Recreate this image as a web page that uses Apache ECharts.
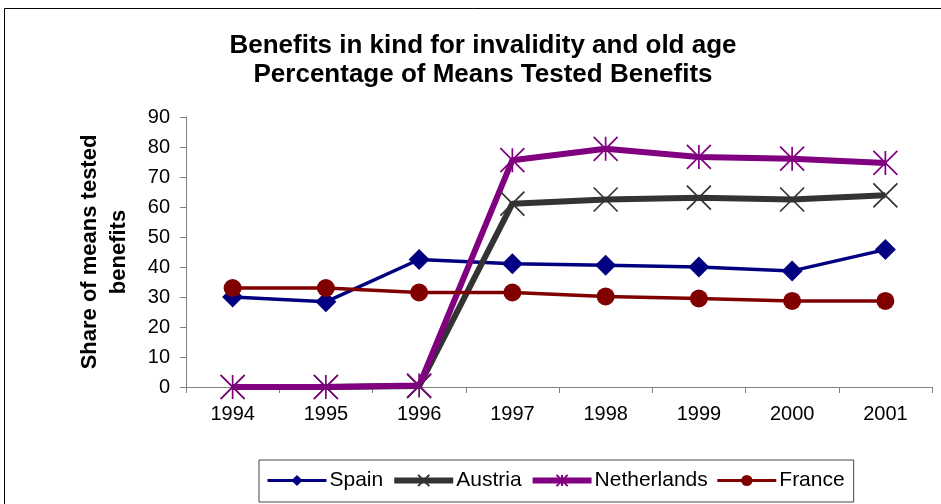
<!DOCTYPE html>
<html><head><meta charset="utf-8">
<script src="https://cdn.jsdelivr.net/npm/echarts@6/dist/echarts.min.js"></script>
<style>html,body{margin:0;padding:0;background:#fff}#c{width:941px;height:504px}</style>
</head><body><div id="c"></div>
<script>
const years = ['1994','1995','1996','1997','1998','1999','2000','2001'];
const spain = [30.0, 28.4, 42.5, 41.1, 40.6, 40.0, 38.7, 45.8];
const austria = [0, 0, 0.3, 61.1, 62.5, 63.1, 62.5, 63.9];
const netherlands = [0, 0, 0.5, 75.6, 79.4, 76.7, 76.1, 74.7];
const france = [33.0, 33.0, 31.5, 31.5, 30.2, 29.5, 28.7, 28.7];
const yTicks = [0, 10, 20, 30, 40, 50, 60, 70, 80, 90];

const FONT = '"Liberation Sans", Arial, sans-serif';
const chart = echarts.init(document.getElementById('c'), null, {renderer: 'canvas'});
const xPath = 'path://M0,0L10,10M10,0L0,10';
const starPath = 'path://M0,0L10,10M10,0L0,10M5,0L5,10';
chart.setOption({
  animation: false,
  textStyle: {fontFamily: FONT},
  graphic: [{type: 'rect', shape: {x: 4.5, y: 8.5, width: 960, height: 520}, style: {fill: 'none', stroke: '#000', lineWidth: 1}, silent: true}],
  title: {
    text: 'Benefits in kind for invalidity and old age\nPercentage of Means Tested Benefits',
    left: 478, top: 26, textAlign: 'center',
    textStyle: {fontFamily: FONT, fontSize: 26, fontWeight: 'bold', color: '#000', lineHeight: 29.5}
  },
  grid: {left: 186, right: 9, top: 117, bottom: 117, containLabel: false},
  xAxis: {
    type: 'category', data: years, boundaryGap: true,
    axisLine: {lineStyle: {color: '#808080', width: 1}},
    axisTick: {show: true, length: 6, inside: false, lineStyle: {color: '#808080'}},
    axisLabel: {color: '#000', fontSize: 20, margin: 17, fontFamily: FONT}
  },
  yAxis: {
    type: 'value', min: yTicks[0], max: yTicks[yTicks.length - 1], interval: 10,
    name: 'Share of means tested\nbenefits', nameLocation: 'middle', nameGap: 53, nameRotate: 90,
    nameTextStyle: {fontSize: 22, fontWeight: 'bold', color: '#000', lineHeight: 29, fontFamily: FONT},
    axisLine: {show: true, lineStyle: {color: '#808080', width: 1}},
    axisTick: {show: true, length: 6, lineStyle: {color: '#808080'}},
    splitLine: {show: false},
    axisLabel: {color: '#000', fontSize: 20, margin: 16, fontFamily: FONT}
  },
  legend: {
    left: 259, top: 460, width: 640,
    itemWidth: 59, itemHeight: 14, itemGap: 8,
    borderColor: '#444', borderWidth: 1, padding: [10, 9, 11, 7],
    textStyle: {fontSize: 21, color: '#000', fontFamily: FONT, padding: [0, 0, 0, -2]},
    data: [
      {name: 'Spain', lineStyle: {width: 3}},
      {name: 'Austria', lineStyle: {width: 6}},
      {name: 'Netherlands', lineStyle: {width: 6}},
      {name: 'France', lineStyle: {width: 3}}
    ]
  },
  series: [
    {name: 'Spain', type: 'line', data: spain, symbol: 'diamond', symbolSize: 21,
     lineStyle: {color: '#000080', width: 3.5}, itemStyle: {color: '#000080'}},
    {name: 'Austria', type: 'line', data: austria, symbol: xPath, symbolSize: 24,
     lineStyle: {color: '#333333', width: 6},
     itemStyle: {color: '#333333', borderColor: '#333333', borderWidth: 1.7}},
    {name: 'Netherlands', type: 'line', data: netherlands, symbol: starPath, symbolSize: 24,
     lineStyle: {color: '#800080', width: 6},
     itemStyle: {color: '#800080', borderColor: '#800080', borderWidth: 1.7}},
    {name: 'France', type: 'line', data: france, symbol: 'circle', symbolSize: 18,
     lineStyle: {color: '#800000', width: 3.5}, itemStyle: {color: '#800000'}}
  ]
});
</script></body></html>
